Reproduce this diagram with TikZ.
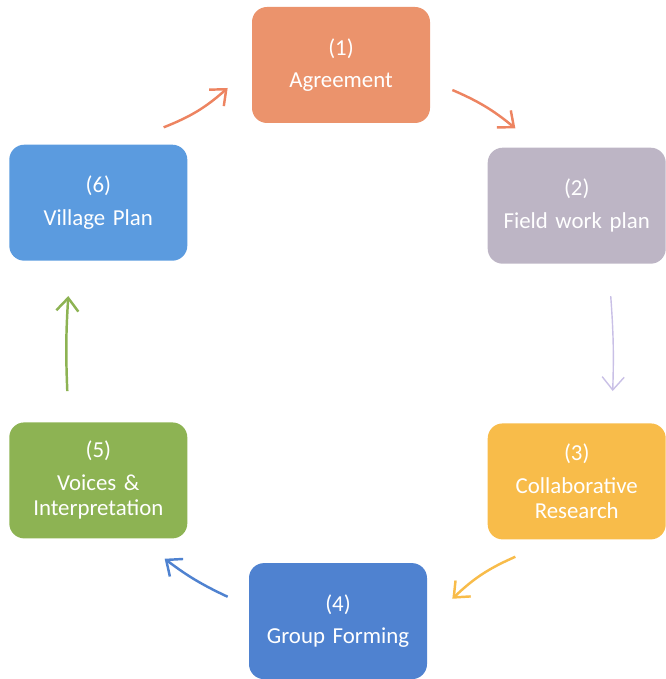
\documentclass[tikz,border=0pt]{standalone}
\usepackage{xcolor}
\usepackage{fontspec}
\setmainfont{Carlito}
\usepackage{tikz}
\usetikzlibrary{shapes, arrows.meta, positioning}

\definecolor{agreecol}{HTML}{EB936C}
\definecolor{fieldcol}{HTML}{BDB5C5}
\definecolor{collabcol}{HTML}{F8BC4A}
\definecolor{groupcol}{HTML}{4F82D0}
\definecolor{voicecol}{HTML}{8DB353}
\definecolor{villagecol}{HTML}{5B9BDF}
\definecolor{lavarrow}{HTML}{C9C0E6}

\tikzset{
  box/.style={rounded corners=0.3cm, minimum width=3.56cm, minimum height=2.32cm,
    text width=3.4cm, align=center, text=white, inner sep=0pt,
    font=\fontsize{13}{14.5}\selectfont},
  flow/.style={line width=1.4pt, -{Straight Barb[length=2.6mm, width=4.4mm]}}
}

\begin{document}
\begin{tikzpicture}
\useasboundingbox (0,0) rectangle (13.3,-13.58);

\node [box, fill=agreecol] (agree) at (6.82,-1.30) {(1)\\[4pt]Agreement};
\node [box, fill=fieldcol, below right=0.48cm and 1.14cm of agree] (field) {(2)\\[4pt]Field work plan};
\node [box, fill=collabcol, below=3.18cm of field] (collab) {(3)\\[4pt]Collaborative\\Research};
\node [box, fill=groupcol, below left=0.46cm and 1.20cm of collab] (group) {(4)\\[4pt]Group Forming};
\node [box, fill=voicecol, above left=0.48cm and 1.22cm of group] (voices) {(5)\\[4pt]Voices \&\\Interpretation};
\node [box, fill=villagecol, above=3.22cm of voices] (village) {(6)\\[4pt]Village Plan};

\draw [flow, agreecol!90!red] ([shift={(0.44,-0.50)}]agree.east) to [bend left=8] ([shift={(0.56,0.38)}]field.north west);
\draw [flow, lavarrow, line width=0.8pt] ([shift={(0.68,-0.64)}]field.south) to [bend left=3] ([shift={(0.72,0.64)}]collab.north);
\draw [flow, collabcol] ([shift={(0.56,-0.34)}]collab.south west) to [bend right=10] ([shift={(0.50,-0.72)}]group.north east);
\draw [flow, groupcol] ([shift={(-0.42,-0.68)}]group.north west) to [bend left=6] ([shift={(-0.46,-0.40)}]voices.south east);
\draw [flow, voicecol] ([shift={(-0.62,0.62)}]voices.north) to [bend left=3] ([shift={(-0.60,-0.70)}]village.south);
\draw [flow, agreecol!90!red] ([shift={(-0.48,0.34)}]village.north east) to [bend right=10] ([shift={(-0.48,-0.46)}]agree.west);
\end{tikzpicture}
\end{document}
